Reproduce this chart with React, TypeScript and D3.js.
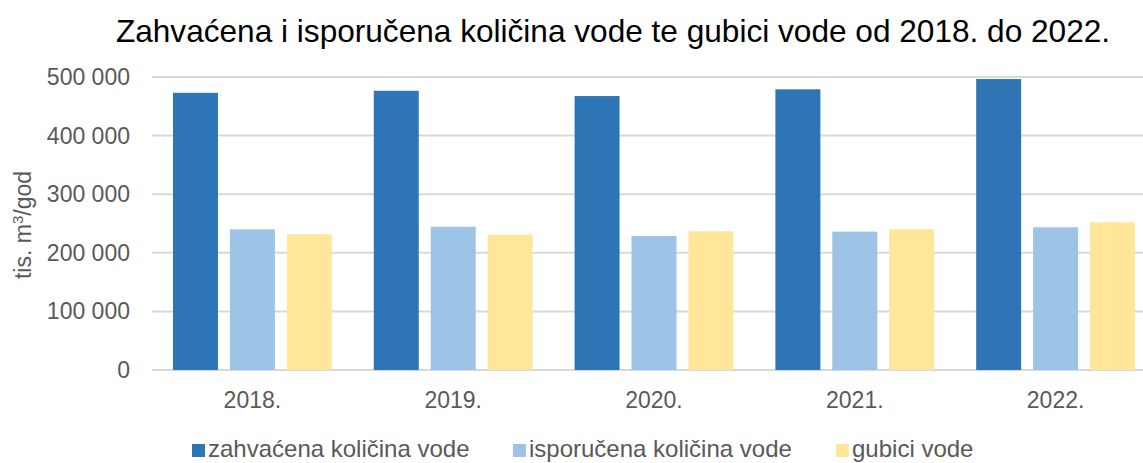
import React from "react";
import * as d3 from "d3";

const years = ["2018.", "2019.", "2020.", "2021.", "2022."];
const seriesNames = ["zahvaćena količina vode", "isporučena količina vode", "gubici vode"];
const zahvacena = [473000, 476500, 467500, 479000, 496500];
const isporucena = [240000, 244500, 228700, 236100, 243500];
const gubici = [231600, 231000, 236700, 240100, 252000];
const yTicks = [0, 100000, 200000, 300000, 400000, 500000];
const colors = ["#2E75B6", "#9DC3E6", "#FFE699"];

const W = 1143;
const H = 463;
const plotLeft = 152;
const plotRight = 1156;
const plotTop = 77;
const plotBottom = 370;

export default function App() {
  const series = [zahvacena, isporucena, gubici];
  const x0 = d3.scaleBand().domain(years).range([plotLeft, plotRight]).paddingInner(0.209).paddingOuter(0.1045);
  const x1 = d3.scaleBand().domain(seriesNames).range([0, x0.bandwidth()]).paddingInner(0.21);
  const y = d3.scaleLinear().domain([0, 500000]).range([plotBottom, plotTop]);
  const fmt = (v: number) => d3.format(",")(v).replace(/,/g, " ");
  const font = "'Liberation Sans', Arial, sans-serif";
  const legendX = [192, 513, 836];
  return (
    <svg width={W} height={H} style={{ position: "absolute", left: 0, top: 0, display: "block" }} fontFamily={font}>
      <rect width={W} height={H} fill="#fff" />
      <text x={613} y={42} textAnchor="middle" fontSize={31.6} fill="#000">
        Zahvaćena i isporučena količina vode te gubici vode od 2018. do 2022.
      </text>
      {yTicks.map((t) => (
        <g key={t}>
          <line x1={plotLeft} x2={plotRight} y1={y(t)} y2={y(t)} stroke="#d9d9d9" strokeWidth={2} />
          <text x={130} y={y(t)} dy="0.35em" textAnchor="end" fontSize={23} fill="#595959">
            {fmt(t)}
          </text>
        </g>
      ))}
      {years.map((yr, i) => (
        <g key={yr} transform={`translate(${x0(yr)},0)`}>
          {series.map((s, j) => (
            <rect
              key={j}
              x={x1(seriesNames[j])}
              y={y(s[i])}
              width={x1.bandwidth()}
              height={y(0) - y(s[i])}
              fill={colors[j]}
            />
          ))}
          <text x={x0.bandwidth() / 2} y={408} textAnchor="middle" fontSize={23} fill="#595959">
            {yr}
          </text>
        </g>
      ))}
      <text transform="translate(31,225) rotate(-90)" textAnchor="middle" fontSize={23} fill="#595959">
        tis. m<tspan dy={-8} fontSize={15}>3</tspan>
        <tspan dy={8}>/god</tspan>
      </text>
      {seriesNames.map((n, j) => (
        <g key={n}>
          <rect x={legendX[j]} y={444} width={13} height={13} fill={colors[j]} />
          <text x={legendX[j] + 16} y={457} fontSize={24} fill="#595959">
            {n}
          </text>
        </g>
      ))}
    </svg>
  );
}
